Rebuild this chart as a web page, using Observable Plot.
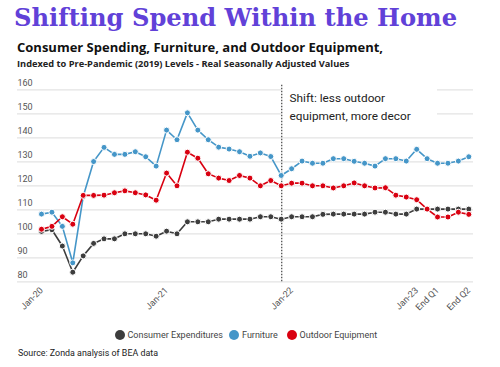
<!DOCTYPE html>
<html><head><meta charset="utf-8">
<script src="https://cdn.jsdelivr.net/npm/d3@7"></script>
<script src="https://cdn.jsdelivr.net/npm/@observablehq/plot@0.6"></script>
<style>
body{margin:0;background:#fff;}
#wrap{position:relative;width:500px;height:367px;overflow:hidden;background:#fff;}
.t{position:absolute;white-space:nowrap;line-height:1;}
#title{left:14px;top:6px;font-family:"DejaVu Serif";font-weight:bold;font-size:24.2px;color:#6141d8;}
#sub1{left:17px;top:41px;font-family:"Open Sans";font-weight:bold;font-size:13px;color:#111;}
#sub2{left:17px;top:59px;font-family:"Open Sans";font-weight:bold;font-size:9.25px;color:#222;}
#chart{position:absolute;left:0;top:75px;}
#legend{position:absolute;left:0;top:329px;width:500px;font-family:Roboto;font-size:9px;color:#444;}
.li{position:absolute;top:0;display:flex;align-items:center;height:12px;}
.sw{display:inline-block;width:10px;height:10px;border-radius:50%;margin-right:3px;}
#source{left:18px;top:349px;font-family:Roboto;font-size:8.9px;color:#222;}
</style></head>
<body><div id="wrap">
<div class="t" id="title">Shifting Spend Within the Home</div>
<div class="t" id="sub1">Consumer Spending, Furniture, and Outdoor Equipment,</div>
<div class="t" id="sub2">Indexed to Pre-Pandemic (2019) Levels - Real Seasonally Adjusted Values</div>
<div id="chart"></div>
<div id="legend"></div>
<div class="t" id="source">Source: Zonda analysis of BEA data</div>
</div>
<script>
// Monthly index, Jan-20 (0) ... Jun-23 (41)
const consumer = [101.0,101.7,94.9,84.0,90.8,96.0,97.9,97.9,100.0,100.0,100.0,99.0,101.1,100.0,105.0,105.0,105.0,106.1,106.1,106.1,106.1,107.1,107.1,106.1,107.1,107.1,107.1,108.1,108.2,108.2,108.2,108.2,109.0,109.0,108.2,108.2,110.3,110.3,110.3,110.3,110.3,110.3];
const furniture = [108.2,109.0,103.1,87.9,115.5,130.1,136.0,133.1,133.1,134.2,132.1,128.2,143.2,139.2,150.4,143.2,139.2,136.1,135.3,134.2,132.3,133.7,132.2,124.3,127.1,130.3,129.4,129.4,131.3,131.3,130.2,129.4,128.2,131.3,131.3,130.3,135.2,131.3,129.4,129.4,130.3,132.1];
const outdoor = [101.9,103.1,107.1,104.0,116.0,116.0,116.1,117.1,117.9,117.1,116.2,114.0,125.3,120.0,134.0,131.5,125.0,123.2,122.2,124.3,123.2,120.0,122.2,120.0,121.1,121.1,120.0,120.0,119.1,120.0,121.2,120.0,119.1,119.2,116.1,115.3,114.2,110.3,107.0,107.0,109.0,108.1];
const seriesNames = ["Consumer Expenditures","Furniture","Outdoor Equipment"];
const seriesColors = ["#3d3d3d","#4596c8","#d90010"];
const seriesValues = [consumer, furniture, outdoor];
const tickIdx = [0,12,24,36,38,41];
const tickLabels = ["Jan-20","Jan-21","Jan-22","Jan-23","End Q1","End Q2"];
const yTicks = [80,90,100,110,120,130,140,150,160];
const shiftIdx = 23.05;
const annotation = "Shift: less outdoor\nequipment, more decor";

const marks = [
  Plot.ruleY(yTicks, {stroke:"#e3e3e3", strokeWidth:1.2}),
  Plot.rect([0], {x1:shiftIdx, x2:38.0, y1:145, y2:163, fill:"white"}),
  Plot.text(yTicks, {y:d=>d, text:d=>String(d), frameAnchor:"left", textAnchor:"start", dy:-7, fontSize:9, fill:"#555"}),
  Plot.axisX(tickIdx, {tickFormat:d=>tickLabels[tickIdx.indexOf(d)], tickRotate:-45, tickSize:0, tickPadding:7, fontSize:9, fill:"#555", label:null}),
  Plot.ruleX([shiftIdx], {y1:80, y2:162.2, stroke:"#444", strokeWidth:1.2, strokeDasharray:"1.5,1.5"}),
  Plot.text([annotation], {x:shiftIdx+0.75, y:153.6, text:d=>d, textAnchor:"start", lineAnchor:"middle", lineHeight:1.55, fontSize:11.8, fill:"#222"})
];
seriesValues.forEach((vals, s) => {
  const rows = vals.map((v,i)=>({i, v}));
  marks.push(Plot.line(rows, {x:"i", y:"v", stroke:seriesColors[s], strokeWidth:1.6}));
  marks.push(Plot.dot(rows, {x:"i", y:"v", r:3, fill:seriesColors[s], stroke:"white", strokeWidth:1}));
});

const chart = Plot.plot({
  width:500, height:245,
  marginLeft:17, marginRight:27, marginTop:14.3, marginBottom:38.7,
  x:{domain:[-2.303, 41.45], axis:null},
  y:{domain:[80,160], axis:null},
  style:{fontFamily:"Roboto", background:"white"},
  marks
});
document.getElementById("chart").appendChild(chart);

const legend = document.getElementById("legend");
const legendX = [114.5, 229, 286.5];
seriesNames.forEach((n,s)=>{
  const d = document.createElement("div");
  d.className = "li";
  d.style.left = legendX[s]+"px";
  d.innerHTML = `<span class="sw" style="background:${seriesColors[s]}"></span><span>${n}</span>`;
  legend.appendChild(d);
});
</script>
</body></html>
